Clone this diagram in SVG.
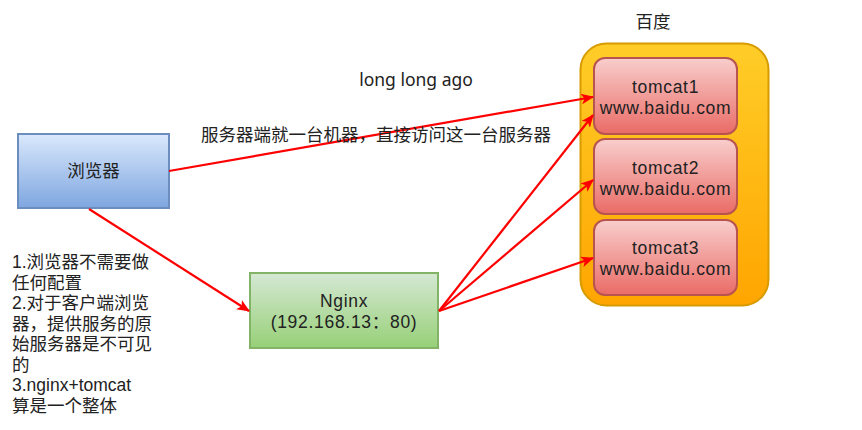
<svg xmlns="http://www.w3.org/2000/svg" width="862" height="430" viewBox="0 0 862 430">
<defs>
<linearGradient id="gBlue" x1="0" y1="0" x2="0" y2="1"><stop offset="0" stop-color="#dae8fc"/><stop offset="1" stop-color="#7ea6e0"/></linearGradient>
<linearGradient id="gGreen" x1="0" y1="0" x2="0" y2="1"><stop offset="0" stop-color="#d5e8d4"/><stop offset="1" stop-color="#97d077"/></linearGradient>
<linearGradient id="gRed" x1="0" y1="0" x2="0" y2="1"><stop offset="0" stop-color="#f8cecc"/><stop offset="1" stop-color="#ea6b66"/></linearGradient>
<linearGradient id="gOrange" x1="0" y1="0" x2="0" y2="1"><stop offset="0" stop-color="#ffcd28"/><stop offset="1" stop-color="#ffa500"/></linearGradient>
<marker id="arr" viewBox="0 0 12 10" refX="11" refY="5" markerWidth="13" markerHeight="11" markerUnits="userSpaceOnUse" orient="auto">
<path d="M0,0 L12,5 L0,10 L3,5 Z" fill="#ff0000"/>
</marker>
<style>
text{font-family:"Noto Sans","Noto Sans CJK SC",sans-serif;font-size:17.5px;fill:#222;}
.m{font-family:"Liberation Sans","Noto Sans CJK SC",sans-serif;letter-spacing:0.7px;}
.l{font-family:"Liberation Sans","Noto Sans CJK SC",sans-serif;}
.c{text-anchor:middle;}
.edge{fill:none;stroke:#ff0000;stroke-width:2.2;marker-end:url(#arr);}
</style>
</defs>

<g id="baidu-group">
<rect x="580.5" y="43.5" width="188" height="262" rx="26" fill="url(#gOrange)" stroke="#d79b00" stroke-width="2"/>
<text class="c" x="653" y="28">百度</text>
</g>

<g id="browser">
<rect x="18" y="134" width="151" height="74" fill="url(#gBlue)" stroke="#6c8ebf" stroke-width="2"/>
<text class="c" x="93.5" y="177">浏览器</text>
</g>

<g id="nginx">
<rect x="250" y="273" width="188" height="75" fill="url(#gGreen)" stroke="#82b366" stroke-width="2"/>
<text class="c m" x="344" y="307">Nginx</text>
<text class="c m" x="344" y="328">(192.168.13：80)</text>
</g>

<g id="tomcat1">
<rect x="594" y="58" width="143" height="76" rx="11" fill="url(#gRed)" stroke="#b85450" stroke-width="2"/>
<text class="c m" x="665.5" y="93">tomcat1</text>
<text class="c m" x="665.5" y="114">www.baidu.com</text>
</g>
<g id="tomcat2">
<rect x="594" y="139" width="143" height="75" rx="11" fill="url(#gRed)" stroke="#b85450" stroke-width="2"/>
<text class="c m" x="665.5" y="174">tomcat2</text>
<text class="c m" x="665.5" y="195">www.baidu.com</text>
</g>
<g id="tomcat3">
<rect x="594" y="220" width="143" height="75" rx="11" fill="url(#gRed)" stroke="#b85450" stroke-width="2"/>
<text class="c m" x="665.5" y="254">tomcat3</text>
<text class="c m" x="665.5" y="275">www.baidu.com</text>
</g>

<g id="connectors">
<path class="edge" d="M169,171 L593,97"/>
<path class="edge" d="M89,209 L249,311"/>
<path class="edge" d="M439,311 L593,115"/>
<path class="edge" d="M439,311 L593,180"/>
<path class="edge" d="M439,311 L593,258"/>
</g>

<g id="labels">
<text class="c" x="416" y="86">long long ago</text>
<text x="201" y="141">服务器端就一台机器，直接访问这一台服务器</text>
<text class="l" x="12" y="268">1.浏览器不需要做</text>
<text class="l" x="12" y="288.5">任何配置</text>
<text class="l" x="12" y="309">2.对于客户端浏览</text>
<text class="l" x="12" y="329.5">器，提供服务的原</text>
<text class="l" x="12" y="350">始服务器是不可见</text>
<text class="l" x="12" y="370.5">的</text>
<text class="l" x="12" y="391">3.nginx+tomcat</text>
<text class="l" x="12" y="411.5">算是一个整体</text>
</g>
</svg>
